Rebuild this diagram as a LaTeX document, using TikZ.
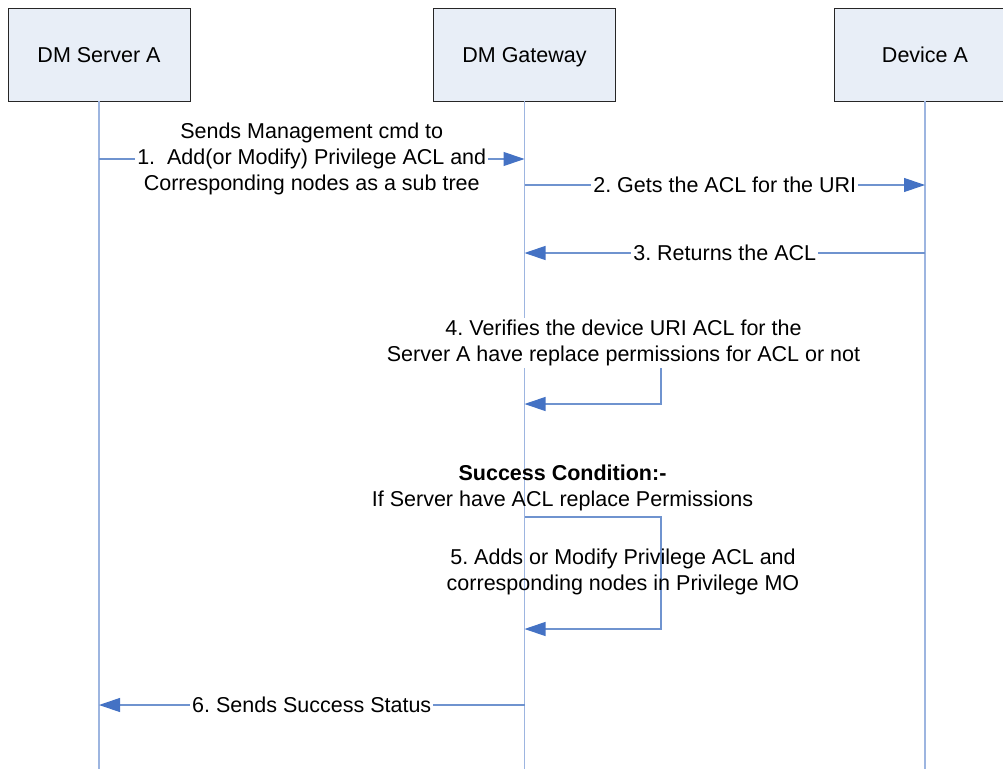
\documentclass[tikz,border=0pt]{standalone}
\usepackage{fontspec}
\setmainfont{Liberation Sans}
\usetikzlibrary{positioning, arrows.meta}
\frenchspacing
\definecolor{lifeblue}{RGB}{157,181,224}
\definecolor{msgblue}{RGB}{111,147,207}
\definecolor{tipblue}{RGB}{68,114,196}
\definecolor{boxfill}{RGB}{232,238,247}
\newcommand{\seqfont}{\fontsize{21.5pt}{26pt}\selectfont}
\tikzset{
        entity/.style={draw=black!85, fill=boxfill, line width=0.9pt, minimum width=182pt, minimum height=93pt, inner sep=0pt, text height=15.4pt, text depth=0pt, font=\seqfont},
        lifeline/.style={draw=lifeblue, line width=1.6pt},
        msg/.style={draw=msgblue, line width=1.1pt, -{Triangle[length=21pt, width=14pt, color=tipblue]}},
        lbl/.style={fill=white, inner sep=2pt, align=center, font=\seqfont},
        note/.style={inner sep=2pt, align=center, font=\seqfont}
          }

\begin{document}
\begin{tikzpicture}[x=1pt, y=-1pt]
      \path[use as bounding box, clip] (0,0) rectangle (1003,768);
      % participants
      \node[entity] (server) at (99,54.5) {DM Server A};
      \node[entity] (gateway) at (524.5,54.5) {DM Gateway};
      \node[entity] (device) at (925,54.5) {Device A};
      % lifelines
      \coordinate (server end) at (99,770);
      \coordinate (gateway end) at (524.5,770);
      \coordinate (device end) at (925,770);
      \draw[lifeline] (server) -- (server end);
      \draw[lifeline] (gateway) -- (gateway end);
      \draw[lifeline] (device) -- (device end);
      % message points
      \coordinate (s1) at (99,159);     \coordinate (g1) at (524.5,159);
      \coordinate (g2) at (524.5,185);  \coordinate (d2) at (925,185);
      \coordinate (d3) at (925,253);    \coordinate (g3) at (524.5,253);
      \coordinate (g4a) at (524.5,335); \coordinate (r4a) at (661,335);
      \coordinate (r4b) at (661,404);   \coordinate (g4b) at (524.5,404);
      \coordinate (g5a) at (524.5,517); \coordinate (r5a) at (661,517);
      \coordinate (r5b) at (661,629);   \coordinate (g5b) at (524.5,629);
      \coordinate (g6) at (524.5,705);  \coordinate (s6) at (99,705);
      % messages
      \draw[msg] (s1) -- node[lbl] {Sends Management cmd to\\1.\ \ Add(or Modify) Privilege ACL and\\Corresponding nodes as a sub tree} (g1);
      \draw[msg] (g2) -- node[lbl] {2. Gets the ACL for the URI} (d2);
      \draw[msg] (d3) -- node[lbl] {3. Returns the ACL} (g3);
      \draw[msg] (g4a) -- (r4a) -- (r4b) -- (g4b);
      \node[lbl] (verify) at (623.5,343) {4. Verifies the device URI ACL for the\\Server A have replace permissions for ACL or not};
      \node[note] (cond) at (562.5,488) {\textbf{Success Condition:-}\\If Server have ACL replace Permissions};
      \draw[msg] (g5a) -- (r5a) -- (r5b) -- (g5b);
      \node[note] (adds) at (623,572) {5. Adds or Modify Privilege ACL and\\corresponding nodes in Privilege MO};
      \draw[msg] (g6) -- node[lbl] {6. Sends Success Status} (s6);
\end{tikzpicture}
\end{document}
